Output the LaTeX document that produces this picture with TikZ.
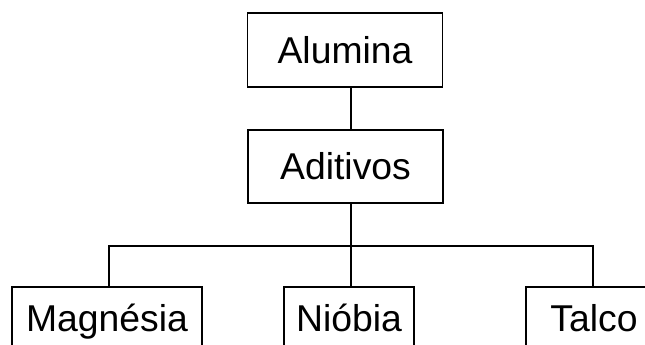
\documentclass[tikz,border=0pt]{standalone}
\usepackage{fontspec}
\setmainfont{Liberation Sans}
\begin{document}
\begin{tikzpicture}[x=0.75pt,y=-0.75pt,
  caixa/.style={draw,line width=1.3pt,inner sep=0pt,font=\fontsize{28}{30}\selectfont},
  folha/.style={caixa,minimum height=52.5pt,text height=20pt,text depth=6pt},
  liga/.style={line width=1.3pt}]
\clip (0,0) rectangle (645,344);
\node[caixa,minimum width=146.25pt,minimum height=55.5pt] (alumina) at (345,50) {Alumina};
\node[caixa,minimum width=146.25pt,minimum height=54.75pt] (aditivos) at (345.5,166.5) {Aditivos};
\node[folha,minimum width=142.5pt] (magnesia) at (107,322) {Magnésia};
\node[folha,minimum width=97.5pt] (niobia) at (349,322) {Nióbia};
\node[folha,minimum width=102pt] (talco) at (594,322) {Talco};
\coordinate (barra) at (351,246);
\path[draw,liga] (alumina.south -| barra) -- (aditivos.north -| barra);
\path[draw,liga] (aditivos.south -| barra) -- (niobia.north -| barra);
\path[draw,liga] (magnesia.north -| 109,0) |- (barra) -| (talco.north -| 593,0);
\end{tikzpicture}
\end{document}
